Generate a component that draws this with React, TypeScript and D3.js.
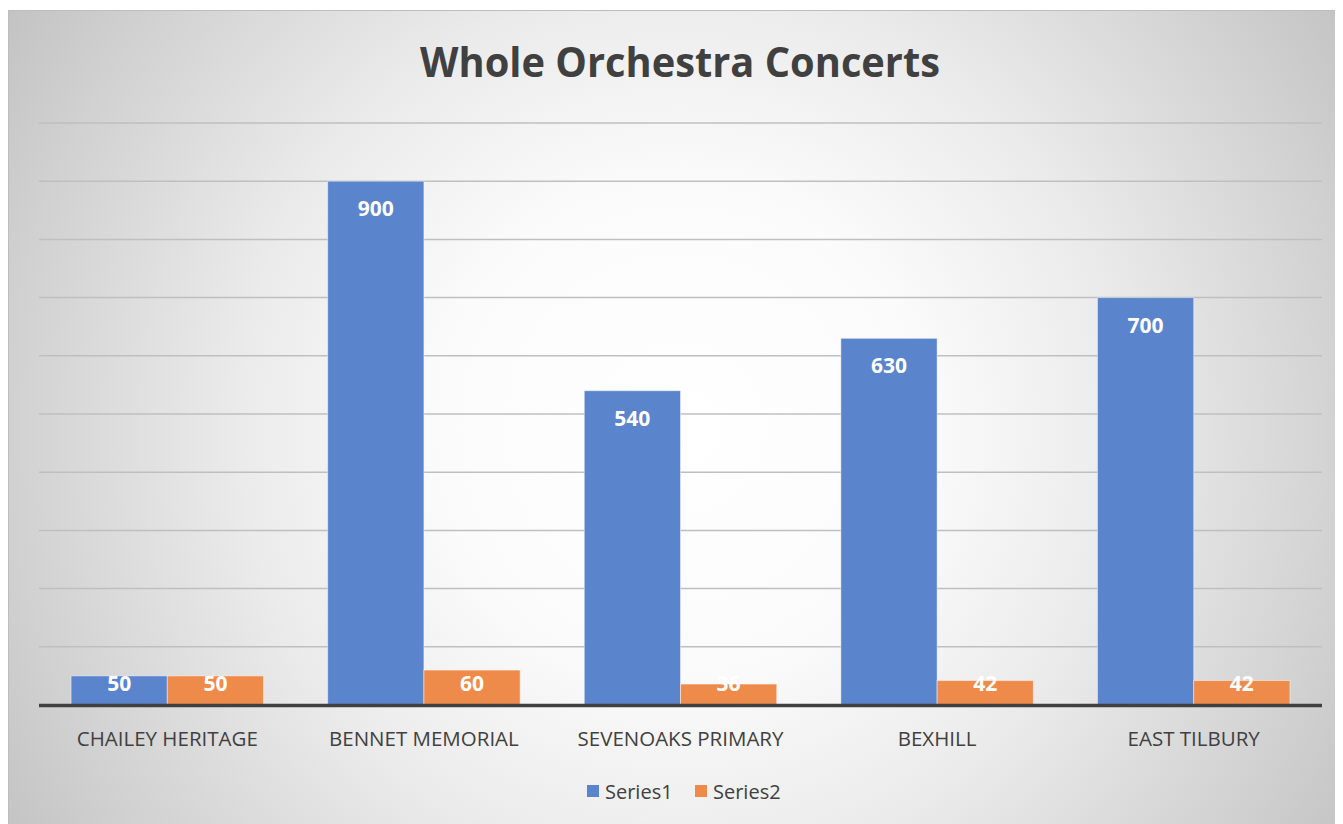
import React, { useEffect, useRef } from 'react';
import * as d3 from 'd3';

const categories = ['CHAILEY HERITAGE', 'BENNET MEMORIAL', 'SEVENOAKS PRIMARY', 'BEXHILL', 'EAST TILBURY'];
const series1 = [50, 900, 540, 630, 700];
const series2 = [50, 60, 36, 42, 42];
const seriesNames = ['Series1', 'Series2'];
const yTicks = [0, 100, 200, 300, 400, 500, 600, 700, 800, 900, 1000];

const W = 1335;
const H = 816;

export default function App() {
  const ref = useRef<SVGSVGElement>(null);

  useEffect(() => {
    const svg = d3.select(ref.current);
    svg.selectAll('*').remove();

    const font = "'Open Sans', 'DejaVu Sans', sans-serif";
    const colors = ['#5a84cc', '#ee8b4b'];

    // background
    const defs = svg.append('defs');
    const grad = defs
      .append('radialGradient')
      .attr('id', 'bg')
      .attr('gradientUnits', 'userSpaceOnUse')
      .attr('cx', 672)
      .attr('cy', 420)
      .attr('r', 800);
    [
      [0, '#ffffff'],
      [0.3, '#fbfbfb'],
      [0.55, '#ebebeb'],
      [0.85, '#d0d0d0'],
      [1, '#c2c2c2'],
    ].forEach(([o, c]) => grad.append('stop').attr('offset', o as number).attr('stop-color', c as string));

    svg
      .append('rect')
      .attr('x', 0.5)
      .attr('y', 2.5)
      .attr('width', W)
      .attr('height', H)
      .attr('fill', 'url(#bg)')
      .attr('stroke', '#bdbdbd')
      .attr('stroke-width', 1);

    const left = 31;
    const right = 1314;
    const top = 115;
    const base = 697;

    const x = d3.scaleBand<string>().domain(categories).range([left, right]).paddingInner(0.25).paddingOuter(0.125);
    const xs = d3.scaleBand<string>().domain(seriesNames).range([0, x.bandwidth()]);
    const y = d3.scaleLinear().domain([0, 1000]).range([base, top]);

    // gridlines
    svg
      .append('g')
      .selectAll('line')
      .data(yTicks.filter((t) => t > 0))
      .join('line')
      .attr('x1', left)
      .attr('x2', right)
      .attr('y1', (d) => y(d))
      .attr('y2', (d) => y(d))
      .attr('stroke', '#bfbfbf')
      .attr('stroke-width', 1.5);

    const all = [series1, series2];
    all.forEach((vals, si) => {
      const g = svg.append('g');
      g.selectAll('rect')
        .data(vals)
        .join('rect')
        .attr('x', (_d, i) => (x(categories[i]) as number) + (xs(seriesNames[si]) as number))
        .attr('y', (d) => y(d))
        .attr('width', xs.bandwidth())
        .attr('height', (d) => base - y(d))
        .attr('fill', colors[si])
        .attr('stroke', 'rgba(255,255,255,0.45)')
        .attr('stroke-width', 1);

      g.selectAll('text')
        .data(vals)
        .join('text')
        .attr('x', (_d, i) => (x(categories[i]) as number) + (xs(seriesNames[si]) as number) + xs.bandwidth() / 2)
        .attr('y', (d) => Math.min(y(d) + 27, base - 22))
        .attr('text-anchor', 'middle')
        .attr('dominant-baseline', 'central')
        .attr('fill', '#ffffff')
        .attr('font-family', font)
        .attr('font-weight', 'bold')
        .attr('font-size', '21px')
        .text((d) => d);
    });

    // axis line
    svg
      .append('line')
      .attr('x1', left)
      .attr('x2', right)
      .attr('y1', base + 0.5)
      .attr('y2', base + 0.5)
      .attr('stroke', '#404040')
      .attr('stroke-width', 3.5);

    // category labels
    svg
      .append('g')
      .selectAll('text')
      .data(categories)
      .join('text')
      .attr('x', (d) => (x(d) as number) + x.bandwidth() / 2)
      .attr('y', base + 33)
      .attr('text-anchor', 'middle')
      .attr('dominant-baseline', 'central')
      .attr('fill', '#404040')
      .attr('font-family', font)
      .attr('font-size', '20.5px')
      .text((d) => d);

    // title
    svg
      .append('text')
      .attr('x', 672)
      .attr('y', 69)
      .attr('text-anchor', 'middle')
      .attr('fill', '#404040')
      .attr('font-family', font)
      .attr('font-weight', 'bold')
      .attr('font-size', '41px')
      .attr('textLength', 520)
      .attr('lengthAdjust', 'spacingAndGlyphs')
      .text('Whole Orchestra Concerts');

    // legend
    const legendItems = [
      { name: seriesNames[0], color: colors[0], x: 579 },
      { name: seriesNames[1], color: colors[1], x: 687 },
    ];
    const lg = svg.append('g');
    legendItems.forEach((it) => {
      lg.append('rect')
        .attr('x', it.x)
        .attr('y', 777)
        .attr('width', 12)
        .attr('height', 12)
        .attr('fill', it.color);
      lg.append('text')
        .attr('x', it.x + 18)
        .attr('y', 783)
        .attr('dominant-baseline', 'central')
        .attr('fill', '#404040')
        .attr('font-family', font)
        .attr('font-size', '20px')
        .text(it.name);
    });
  }, []);

  return <svg ref={ref} width={W + 2} height={H + 4} style={{ display: 'block' }} />;
}
